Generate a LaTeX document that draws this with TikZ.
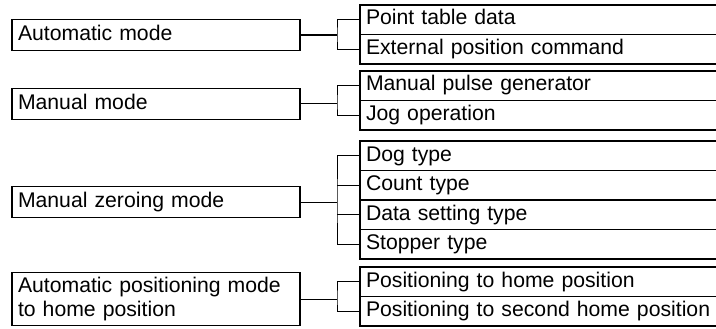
\documentclass[tikz,border=0pt]{standalone}
\usepackage{fontspec}
\setmainfont{Liberation Sans}
\usetikzlibrary{positioning}

\tikzset{
  modebox/.style={draw,line width=1.1pt,text width=276pt,inner xsep=6pt,inner ysep=4pt,
    align=left,minimum height=31pt,text height=15pt,text depth=4.5pt,outer sep=0pt},
  item/.style={draw,line width=1.1pt,text width=348pt,inner xsep=6pt,inner ysep=0pt,
    align=left,minimum height=29.5pt,text height=15pt,text depth=4.5pt,outer sep=0pt},
  link/.style={line width=1pt}
}

\begin{document}
\begin{tikzpicture}[x=1pt,y=-1pt,font=\fontsize{21.2}{24.5}\selectfont]
\useasboundingbox (0,0) rectangle (716,329);

% modes
\node[modebox,anchor=west] (auto) at (12,35) {Automatic mode};
\node[modebox,anchor=west] (manual) at (12,104) {Manual mode};
\node[modebox,anchor=west] (zero) at (12,202) {Manual zeroing mode};
\node[modebox,anchor=west,text height=,text depth=] (home) at (12,299)
  {Automatic positioning mode\\to home position};

% sub items
\node[item,anchor=north west] (auto1) at (360,5) {Point table data};
\node[item,below=0pt of auto1] (auto2) {External position command};
\node[item,anchor=north west] (manual1) at (360,71) {Manual pulse generator};
\node[item,below=0pt of manual1] (manual2) {Jog operation};
\node[item,anchor=north west] (zero1) at (360,141) {Dog type};
\node[item,below=0pt of zero1] (zero2) {Count type};
\node[item,below=0pt of zero2] (zero3) {Data setting type};
\node[item,below=0pt of zero3] (zero4) {Stopper type};
\node[item,anchor=north west] (home1) at (360,267) {Positioning to home position};
\node[item,below=0pt of home1] (home2) {Positioning to second home position};

% brackets
\coordinate (autoJ) at (337,35);
\coordinate (manualJ) at (337,104);
\coordinate (zeroJ) at (337,202);
\coordinate (homeJ) at (337,299);
\draw[link,line width=1.6pt] (auto.east) -- (autoJ);
\draw[link] (auto1.west) -| (autoJ) |- (auto2.west);
\draw[link] (manual.east) -- (manualJ);
\draw[link] (manual1.west) -| (manualJ) |- (manual2.west);
\draw[link] (zero.east) -- (zeroJ);
\draw[link] (zero1.west) -| (zeroJ) |- (zero4.west);
\draw[link] (zero2.west) -- (zero2.west -| zeroJ);
\draw[link] (zero3.west) -- (zero3.west -| zeroJ);
\draw[link] (home.east) -- (homeJ);
\draw[link] (home1.west) -| (homeJ) |- (home2.west);
\end{tikzpicture}
\end{document}
